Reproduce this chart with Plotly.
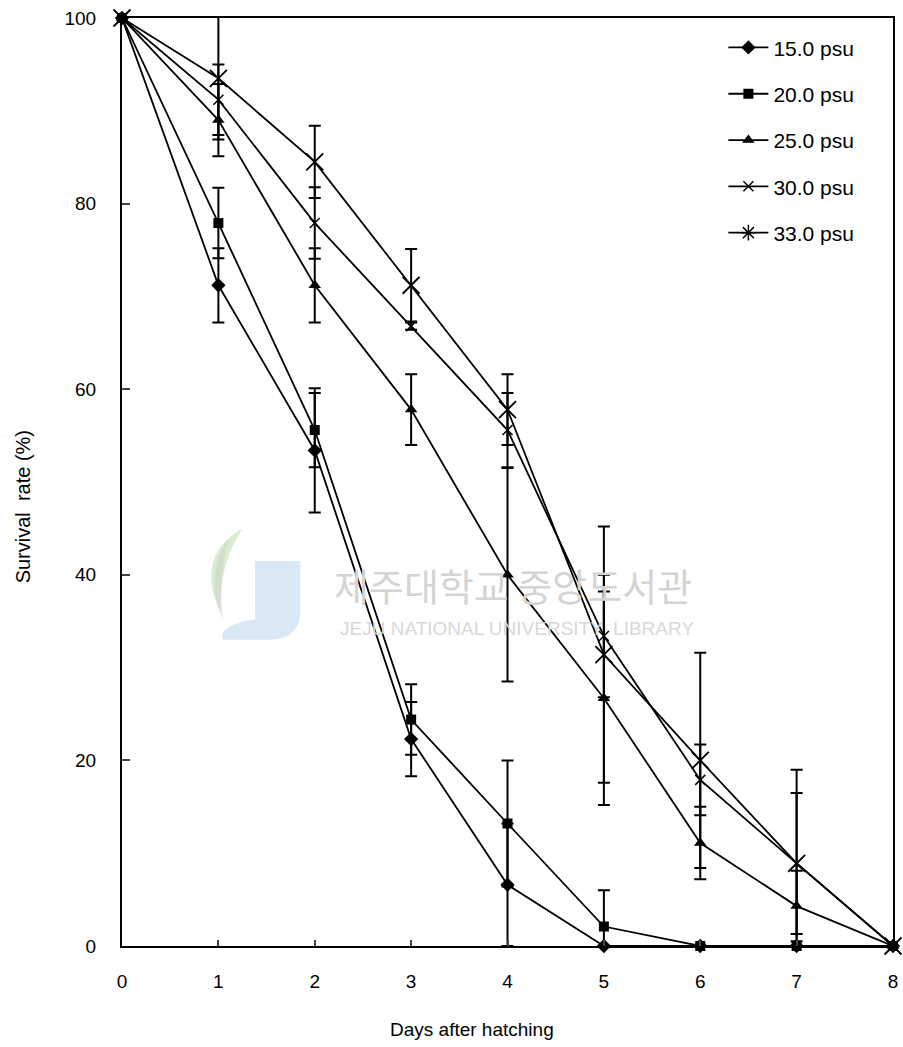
import plotly.graph_objects as go

days = [0, 1, 2, 3, 4, 5, 6, 7, 8]
series_names = ["15.0 psu", "20.0 psu", "25.0 psu", "30.0 psu", "33.0 psu"]
s15 = [100, 71.2, 53.4, 22.3, 6.6, 0, 0, 0, 0]
e15 = [0, 4.0, 6.7, 4.0, 6.6, 0, 0, 0, 0]
s20 = [100, 77.9, 55.6, 24.4, 13.2, 2.1, 0, 0, 0]
e20 = [0, 3.8, 4.0, 3.8, 6.8, 3.9, 0, 0, 0]
s25 = [100, 89.0, 71.2, 57.8, 40.0, 26.7, 11.1, 4.3, 0]
e25 = [0, 3.9, 4.0, 3.8, 11.5, 11.5, 3.9, 3.8, 0]
s30 = [100, 91.2, 77.9, 66.8, 55.6, 33.4, 17.9, 8.9, 0]
e30 = [0, 3.8, 3.85, 0.4, 4.0, 6.6, 3.8, 7.6, 0]
s33 = [100, 93.5, 84.5, 71.2, 57.8, 31.4, 20.0, 8.9, 0]
e33 = [0, 6.6, 3.9, 3.9, 3.8, 13.8, 11.6, 10.1, 0]
x_ticks = [0, 1, 2, 3, 4, 5, 6, 7, 8]
y_ticks = [0, 20, 40, 60, 80, 100]

FONT = "Liberation Sans, Arial, sans-serif"
fig = go.Figure()

# faint library watermark logo (decorative)
fig.add_shape(type="path", xref="x", yref="y",
              path="M 1.38 41.5 L 1.85 41.5 L 1.85 36 Q 1.85 33.2 1.55 33.0 L 1.05 33.0 Q 0.98 34.5 1.38 35.2 Z",
              fillcolor="rgba(150,190,230,0.35)", line=dict(width=0), layer="below")
fig.add_shape(type="path", xref="x", yref="y",
              path="M 1.25 45 Q 0.75 42 1.02 36 Q 1.0 41 1.25 45 Z",
              fillcolor="rgba(150,200,120,0.35)", line=dict(width=0), layer="below")
fig.add_shape(type="path", xref="x", yref="y",
              path="M 1.1 44 Q 0.85 40 1.05 35 Q 1.0 39 1.1 44 Z",
              fillcolor="rgba(200,200,200,0.4)", line=dict(width=0), layer="below")

styles = [
    (s15, e15, "diamond", 11, 0),
    (s20, e20, "square", 10, 0),
    (s25, e25, "triangle-up", 11, 0),
    (s30, e30, "x-thin", 10, 1.5),
    (s33, e33, "x-thin", 17, 1.8),
]
for i, (ys, es, sym, sz, lw) in enumerate(styles):
    fig.add_trace(go.Scatter(
        x=days, y=ys, name=series_names[i], mode="lines+markers",
        line=dict(color="black", width=1.8),
        marker=dict(symbol=sym, size=sz, color="black",
                    line=dict(color="black", width=lw)),
        error_y=dict(type="data", array=es, visible=True, color="black",
                     thickness=2, width=6),
        cliponaxis=False,
        showlegend=(i < 4),
        legendgroup=f"g{i}",
    ))

# legend entry for 33.0 psu drawn with an asterisk symbol
fig.add_trace(go.Scatter(
    x=[None], y=[None], name=series_names[4], mode="lines+markers",
    line=dict(color="black", width=1.8),
    marker=dict(symbol="asterisk", size=13, color="black",
                line=dict(color="black", width=1.5)),
    legendgroup="g4", showlegend=True,
))

fig.add_annotation(text="제주대학교 중앙도서관", x=4.06, y=39.0, xref="x", yref="y",
                   showarrow=False, font=dict(family="Noto Sans CJK KR", size=38, color="#d4d4d4"))
fig.add_annotation(text="JEJU NATIONAL UNIVERSITY  LIBRARY", x=4.1, y=34.2, xref="x", yref="y",
                   showarrow=False, font=dict(family=FONT, size=19, color="#d8d8d8"))

fig.add_annotation(text="Days after hatching", xref="paper", yref="paper",
                   x=0.454, y=-0.09, xanchor="center", yanchor="middle",
                   showarrow=False, font=dict(family=FONT, size=19, color="black"))
fig.add_annotation(text="Survival  rate (%)", xref="paper", yref="paper",
                   x=-0.128, y=0.473, xanchor="center", yanchor="middle", textangle=-90,
                   showarrow=False, font=dict(family="Liberation Sans Narrow, " + FONT, size=20, color="black"))

fig.update_layout(
    width=903, height=1047,
    margin=dict(l=122, r=10, t=18, b=101, autoexpand=False),
    paper_bgcolor="white", plot_bgcolor="white",
    font=dict(family=FONT, size=19, color="black"),
    legend=dict(x=0.78, y=0.99, xanchor="left", yanchor="top",
                font=dict(family=FONT, size=21), tracegroupgap=16,
                bgcolor="rgba(0,0,0,0)", itemwidth=40),
    xaxis=dict(range=[0, 8], tickvals=x_ticks, ticks="inside", ticklen=6, tickwidth=2,
               showline=True, linecolor="black", linewidth=2, mirror=True,
               showgrid=False, zeroline=False, ticklabelstandoff=17, automargin=False,
               ticklabeloverflow="allow", tickfont=dict(size=19)),
    yaxis=dict(range=[0, 100], tickvals=y_ticks, ticks="inside", ticklen=8, tickwidth=2,
               showline=True, linecolor="black", linewidth=2, mirror=True,
               showgrid=False, zeroline=False, ticklabelstandoff=20, automargin=False,
               ticklabeloverflow="allow", tickfont=dict(size=19)),
)

fig.write_html("out.html", config={"displayModeBar": False},
               post_script="document.body.style.margin='0';document.body.style.overflow='hidden';")
